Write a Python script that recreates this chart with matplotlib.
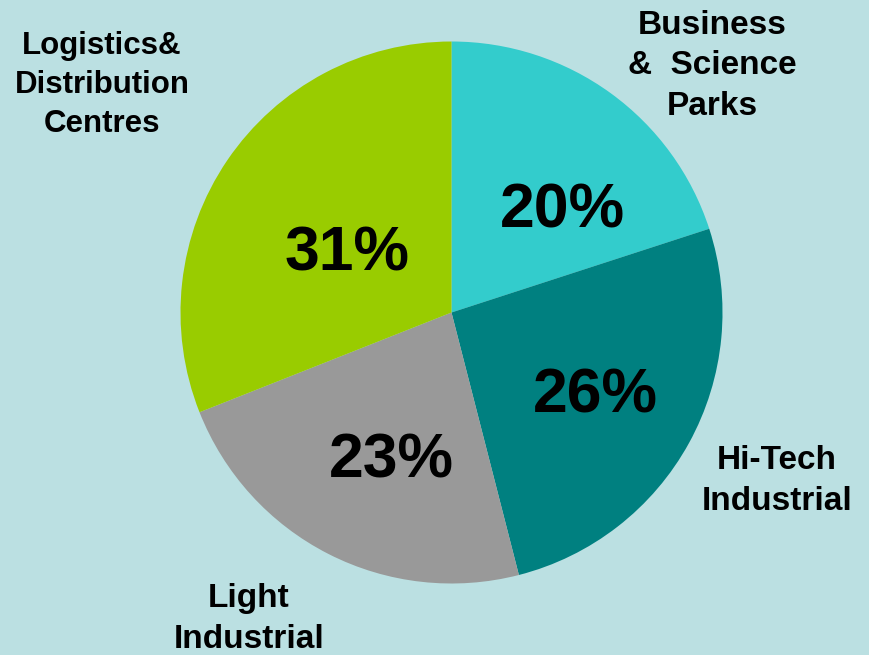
import matplotlib

matplotlib.use("Agg")
import matplotlib.pyplot as plt

# share of floorspace by property type
categories = ["Business\n&  Science\nParks", "Hi-Tech\nIndustrial", "Light\nIndustrial", "Logistics&\nDistribution\nCentres"]
shares = [20, 26, 23, 31]
colors = ["#33CCCC", "#008080", "#999999", "#99CC00"]

W, H = 870, 655
bg = "#BBE0E2"

# label anchors in pixels, measured from the top-left corner
label_pos = [(712, 66), (777, 481), (249, 619), (102, 85)]
label_size = [24, 24, 24, 22.5]
pct_pos = [(562, 211), (595, 396), (391, 461), (347, 254)]

plt.rcParams["font.family"] = ["Liberation Sans", "DejaVu Sans"]

fig = plt.figure(figsize=(W / 100, H / 100), dpi=100, facecolor=bg)
ax = fig.add_axes([0, 0, 1, 1])
ax.set_facecolor(bg)

ax.pie(shares, colors=colors, startangle=90, counterclock=False,
       center=(451.5, H - 312.5), radius=271, frame=True,
       wedgeprops=dict(linewidth=0))
ax.set_xlim(0, W)
ax.set_ylim(0, H)
ax.set_aspect("equal")
ax.axis("off")

for name, (x, y), fs in zip(categories, label_pos, label_size):
    ax.text(x, H - y, name, ha="center", va="center", fontsize=fs, fontweight="bold",
            multialignment="center", linespacing=1.38, color="black")

for val, (x, y) in zip(shares, pct_pos):
    ax.text(x, H - y, f"{val}%", ha="center", va="center", fontsize=45,
            fontweight="bold", color="black")

fig.savefig("out.png", dpi=100, facecolor=bg)
